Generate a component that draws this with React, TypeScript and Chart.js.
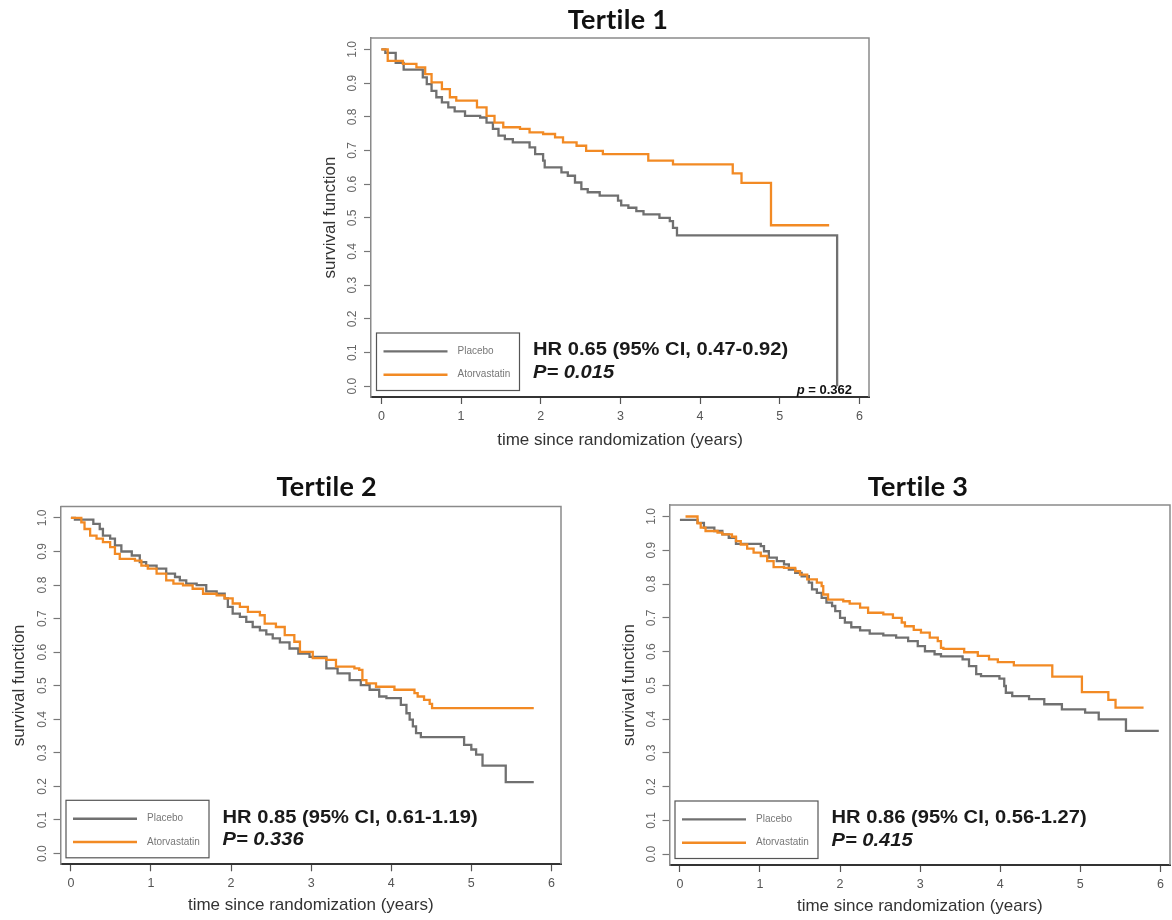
import React, { useEffect, useRef } from 'react';
import { Chart, registerables } from 'chart.js';

Chart.register(...registerables);
Chart.defaults.font.family = '"Liberation Sans", Arial, sans-serif';

// ---------- data ----------
const X_TICKS = [0, 1, 2, 3, 4, 5, 6];
const Y_TICKS = [0, 0.1, 0.2, 0.3, 0.4, 0.5, 0.6, 0.7, 0.8, 0.9, 1.0];
const SERIES_LABELS = ['Placebo', 'Atorvastatin'];
const SERIES_COLORS = ['#707070', '#F28A24'];

const PANEL_TITLES = ['Tertile 1', 'Tertile 2', 'Tertile 3'];
const HR_TEXTS = ['HR 0.65 (95% CI, 0.47-0.92)', 'HR 0.85 (95% CI, 0.61-1.19)', 'HR 0.86 (95% CI, 0.56-1.27)'];
const P_TEXTS = ['P= 0.015', 'P= 0.336', 'P= 0.415'];
const EXTRA_P_TEXT = [' = 0.362', '', ''];

const X_TITLE = 'time since randomization (years)';
const Y_TITLE = 'survival function';

// Tertile 1
const T1_PLACEBO_TIME = [0, 0.05, 0.18, 0.28, 0.52, 0.57, 0.63, 0.69, 0.76, 0.84, 0.92, 1.05, 1.24, 1.32, 1.40, 1.47, 1.55, 1.65, 1.86, 1.93, 2.03, 2.05, 2.26, 2.34, 2.43, 2.51, 2.59, 2.74, 2.97, 3.01, 3.10, 3.20, 3.29, 3.49, 3.62, 3.66, 3.71, 5.72];
const T1_PLACEBO_SURV = [1.0, 0.99, 0.96, 0.94, 0.917, 0.897, 0.877, 0.858, 0.843, 0.828, 0.816, 0.803, 0.798, 0.783, 0.764, 0.744, 0.734, 0.724, 0.709, 0.689, 0.670, 0.650, 0.635, 0.625, 0.605, 0.585, 0.576, 0.566, 0.551, 0.537, 0.530, 0.520, 0.510, 0.500, 0.490, 0.470, 0.448, 0.0];
const T1_ATORVA_TIME = [0, 0.08, 0.27, 0.44, 0.55, 0.63, 0.76, 0.86, 0.94, 1.20, 1.32, 1.42, 1.53, 1.74, 1.86, 2.03, 2.18, 2.28, 2.45, 2.57, 2.78, 3.35, 3.66, 4.41, 4.52, 4.89, 5.62];
const T1_ATORVA_SURV = [1.0, 0.966, 0.957, 0.947, 0.927, 0.902, 0.882, 0.858, 0.848, 0.828, 0.803, 0.783, 0.769, 0.764, 0.754, 0.749, 0.739, 0.724, 0.714, 0.699, 0.689, 0.670, 0.659, 0.632, 0.604, 0.478, 0.478];

// Tertile 2
const T2_PLACEBO_TIME = [0, 0.05, 0.28, 0.36, 0.40, 0.49, 0.55, 0.63, 0.76, 0.86, 0.94, 1.07, 1.19, 1.30, 1.36, 1.44, 1.57, 1.69, 1.82, 1.92, 1.96, 2.02, 2.11, 2.19, 2.27, 2.36, 2.44, 2.52, 2.61, 2.73, 2.84, 2.98, 3.19, 3.33, 3.48, 3.62, 3.73, 3.85, 3.94, 4.12, 4.19, 4.23, 4.27, 4.31, 4.37, 4.91, 5.00, 5.06, 5.14, 5.43, 5.78];
const T2_PLACEBO_SURV = [1.0, 0.995, 0.982, 0.967, 0.947, 0.938, 0.918, 0.900, 0.888, 0.868, 0.858, 0.849, 0.834, 0.824, 0.814, 0.804, 0.800, 0.781, 0.774, 0.760, 0.735, 0.715, 0.705, 0.690, 0.675, 0.665, 0.653, 0.641, 0.629, 0.611, 0.596, 0.586, 0.552, 0.537, 0.517, 0.502, 0.488, 0.468, 0.463, 0.443, 0.418, 0.399, 0.379, 0.359, 0.347, 0.324, 0.310, 0.295, 0.262, 0.213, 0.213];
const T2_ATORVA_TIME = [0, 0.13, 0.17, 0.24, 0.32, 0.40, 0.49, 0.55, 0.61, 0.80, 0.88, 0.96, 1.07, 1.19, 1.28, 1.40, 1.52, 1.65, 1.82, 1.92, 2.02, 2.11, 2.21, 2.36, 2.42, 2.56, 2.67, 2.79, 2.86, 3.02, 3.19, 3.31, 3.54, 3.60, 3.64, 3.69, 3.81, 4.04, 4.29, 4.33, 4.41, 4.48, 4.51, 5.78];
const T2_ATORVA_SURV = [1.0, 0.987, 0.967, 0.947, 0.938, 0.928, 0.913, 0.893, 0.878, 0.873, 0.858, 0.849, 0.834, 0.814, 0.804, 0.799, 0.789, 0.774, 0.769, 0.760, 0.745, 0.735, 0.720, 0.710, 0.685, 0.675, 0.651, 0.631, 0.601, 0.582, 0.577, 0.557, 0.552, 0.547, 0.517, 0.507, 0.497, 0.488, 0.478, 0.468, 0.458, 0.446, 0.433, 0.433];

// Tertile 3
const T3_PLACEBO_TIME = [0, 0.22, 0.30, 0.43, 0.53, 0.61, 0.70, 1.01, 1.05, 1.11, 1.21, 1.30, 1.36, 1.44, 1.52, 1.61, 1.65, 1.71, 1.77, 1.83, 1.90, 1.94, 2.00, 2.06, 2.14, 2.25, 2.37, 2.54, 2.70, 2.85, 2.97, 3.06, 3.18, 3.26, 3.53, 3.61, 3.70, 3.76, 3.99, 4.05, 4.07, 4.15, 4.36, 4.55, 4.77, 5.06, 5.23, 5.57, 5.98];
const T3_PLACEBO_SURV = [0.99, 0.981, 0.967, 0.957, 0.947, 0.937, 0.919, 0.912, 0.897, 0.878, 0.868, 0.858, 0.843, 0.833, 0.823, 0.804, 0.784, 0.774, 0.759, 0.745, 0.735, 0.720, 0.700, 0.686, 0.672, 0.663, 0.653, 0.648, 0.641, 0.631, 0.616, 0.601, 0.592, 0.586, 0.577, 0.557, 0.533, 0.527, 0.520, 0.498, 0.478, 0.468, 0.459, 0.444, 0.429, 0.419, 0.399, 0.365, 0.365];
const T3_ATORVA_TIME = [0.07, 0.22, 0.26, 0.32, 0.47, 0.53, 0.65, 0.70, 0.76, 0.84, 0.92, 1.01, 1.09, 1.17, 1.30, 1.44, 1.50, 1.59, 1.71, 1.77, 1.79, 1.85, 2.04, 2.12, 2.25, 2.35, 2.54, 2.66, 2.77, 2.81, 2.92, 3.01, 3.12, 3.22, 3.26, 3.29, 3.55, 3.72, 3.86, 3.97, 4.17, 4.65, 5.02, 5.35, 5.44, 5.79];
const T3_ATORVA_SURV = [1.0, 0.98, 0.967, 0.957, 0.952, 0.947, 0.940, 0.927, 0.917, 0.905, 0.893, 0.883, 0.868, 0.850, 0.848, 0.838, 0.828, 0.814, 0.804, 0.794, 0.769, 0.754, 0.749, 0.742, 0.730, 0.715, 0.710, 0.700, 0.686, 0.675, 0.664, 0.656, 0.641, 0.631, 0.611, 0.608, 0.598, 0.587, 0.577, 0.569, 0.559, 0.526, 0.480, 0.457, 0.434, 0.434];

// ---------- layout ----------
type PanelCfg = {
  idx: number;
  left: number; top: number; width: number; height: number;
  padTop: number; padRight: number; yAxisW: number; xAxisH: number;
  titleDx: number; titleY: number;
  yTitlePad: number; xTitlePad: number; xTickPad: number;
  placebo: [number[], number[]];
  atorva: [number[], number[]];
};

const PANELS: PanelCfg[] = [
  { idx: 0, left: 310, top: 0, width: 570, height: 455, padTop: 38, padRight: 11, yAxisW: 61, xAxisH: 58,
    titleDx: -2, titleY: 20, yTitlePad: 9.8, xTitlePad: 4.8, xTickPad: 5.5,
    placebo: [T1_PLACEBO_TIME, T1_PLACEBO_SURV], atorva: [T1_ATORVA_TIME, T1_ATORVA_SURV] },
  { idx: 1, left: 0, top: 460, width: 580, height: 460, padTop: 46.5, padRight: 19, yAxisW: 60.5, xAxisH: 55.7,
    titleDx: 16, titleY: 27, yTitlePad: 9.4, xTitlePad: 4.8, xTickPad: 4.5,
    placebo: [T2_PLACEBO_TIME, T2_PLACEBO_SURV], atorva: [T2_ATORVA_TIME, T2_ATORVA_SURV] },
  { idx: 2, left: 590, top: 460, width: 582, height: 460, padTop: 45, padRight: 2, yAxisW: 79.5, xAxisH: 55,
    titleDx: -1.7, titleY: 27, yTitlePad: 28.8, xTitlePad: 3.2, xTickPad: 4.8,
    placebo: [T3_PLACEBO_TIME, T3_PLACEBO_SURV], atorva: [T3_ATORVA_TIME, T3_ATORVA_SURV] },
];

const toPoints = (time: number[], surv: number[]) => time.map((t, i) => ({ x: t, y: surv[i] }));

function KMPanel({ cfg }: { cfg: PanelCfg }) {
  const ref = useRef<HTMLCanvasElement>(null);

  useEffect(() => {
    const canvas = ref.current;
    if (!canvas) return;
    const i = cfg.idx;

    const decor = {
      id: 'decor',
      afterDraw(chart: any) {
        const { ctx, chartArea: a } = chart;
        ctx.save();
        // box (top + right)
        ctx.strokeStyle = '#8a8a8a';
        ctx.lineWidth = 1.5;
        ctx.beginPath();
        ctx.moveTo(a.left, a.top);
        ctx.lineTo(a.right, a.top);
        ctx.lineTo(a.right, a.bottom);
        ctx.stroke();

        // title
        ctx.save();
        ctx.fillStyle = '#111';
        ctx.font = 'bold 27px Lato, "Liberation Sans", sans-serif';
        try { (ctx as any).letterSpacing = '0.3px'; } catch (e) { /* ignore */ }
        ctx.textAlign = 'center';
        ctx.textBaseline = 'middle';
        ctx.fillText(PANEL_TITLES[i], (a.left + a.right) / 2 + cfg.titleDx, cfg.titleY);
        ctx.restore();

        // legend box
        const lw = 143, lh = 57.5;
        const lx = a.left + 5.5, ly = a.bottom - 6.5 - lh;
        ctx.fillStyle = '#fff';
        ctx.fillRect(lx, ly, lw, lh);
        ctx.strokeStyle = '#555';
        ctx.lineWidth = 1.2;
        ctx.strokeRect(lx, ly, lw, lh);
        chart.data.datasets.forEach((ds: any, k: number) => {
          const yy = ly + 18.4 + k * 23.3;
          ctx.strokeStyle = ds.borderColor;
          ctx.lineWidth = 2.4;
          ctx.beginPath();
          ctx.moveTo(lx + 7, yy);
          ctx.lineTo(lx + 71, yy);
          ctx.stroke();
          ctx.fillStyle = '#777';
          ctx.font = '10px "Liberation Sans", sans-serif';
          ctx.textAlign = 'left';
          ctx.textBaseline = 'middle';
          ctx.fillText(ds.label, lx + 81, yy);
        });

        // HR annotation
        ctx.fillStyle = '#1a1a1a';
        ctx.textAlign = 'left';
        ctx.textBaseline = 'middle';
        const hx = a.left + 162;
        ctx.save();
        ctx.translate(hx, a.bottom - 47);
        ctx.scale(1.06, 1);
        ctx.font = 'bold 19px "Liberation Sans", sans-serif';
        ctx.fillText(HR_TEXTS[i], 0, 0);
        ctx.restore();
        ctx.save();
        ctx.translate(hx, a.bottom - 24.5);
        ctx.scale(1.06, 1);
        ctx.font = 'italic bold 19px "Liberation Sans", sans-serif';
        ctx.fillText(P_TEXTS[i], 0, 0);
        ctx.restore();

        // extra small p-value
        if (EXTRA_P_TEXT[i]) {
          ctx.font = 'bold 13px "Liberation Sans", sans-serif';
          ctx.textAlign = 'right';
          const rx = a.right - 17;
          const ry = a.bottom - 6.5;
          ctx.fillStyle = '#111';
          ctx.fillText(EXTRA_P_TEXT[i], rx, ry);
          const w = ctx.measureText(EXTRA_P_TEXT[i]).width;
          ctx.font = 'italic bold 13px "Liberation Sans", sans-serif';
          ctx.fillText('p', rx - w, ry);
        }
        ctx.restore();
      },
    };

    const chart = new Chart(canvas, {
      type: 'line',
      data: {
        datasets: [
          {
            label: SERIES_LABELS[0],
            data: toPoints(cfg.placebo[0], cfg.placebo[1]),
            borderColor: SERIES_COLORS[0],
            borderWidth: 2.3,
            pointRadius: 0,
            stepped: 'before',
            fill: false,
            order: 1,
          },
          {
            label: SERIES_LABELS[1],
            data: toPoints(cfg.atorva[0], cfg.atorva[1]),
            borderColor: SERIES_COLORS[1],
            borderWidth: 2.3,
            pointRadius: 0,
            stepped: 'before',
            fill: false,
            order: 0,
          },
        ],
      },
      options: {
        animation: false,
        responsive: false,
        maintainAspectRatio: false,
        events: [],
        layout: { padding: { top: cfg.padTop, right: cfg.padRight, left: 0, bottom: 0 }, autoPadding: false },
        plugins: {
          legend: { display: false },
          title: { display: false },
          tooltip: { enabled: false },
        },
        scales: {
          x: {
            type: 'linear',
            min: -0.13,
            max: 6.12,
            afterBuildTicks: (s: any) => { s.ticks = X_TICKS.map((v) => ({ value: v })); },
            afterFit: (s: any) => { s.height = cfg.xAxisH; },
            grid: { display: true, drawOnChartArea: false, drawTicks: true, tickLength: 7, tickColor: '#555', tickWidth: 1.2 },
            border: { display: true, color: '#333', width: 2 },
            ticks: {
              autoSkip: false, maxRotation: 0, minRotation: 0, padding: cfg.xTickPad,
              color: '#555', font: { size: 12.5 },
              callback: (v: any) => String(v),
            },
            title: {
              display: true, text: X_TITLE, color: '#333',
              font: { size: 17 }, padding: { top: 0, bottom: cfg.xTitlePad },
            },
          },
          y: {
            type: 'linear',
            min: -0.032,
            max: 1.034,
            afterBuildTicks: (s: any) => { s.ticks = Y_TICKS.map((v) => ({ value: v })); },
            afterFit: (s: any) => { s.width = cfg.yAxisW; },
            grid: { display: true, drawOnChartArea: false, drawTicks: true, tickLength: 7, tickColor: '#777', tickWidth: 1.2 },
            border: { display: true, color: '#8a8a8a', width: 1.5 },
            ticks: {
              autoSkip: false, minRotation: 90, maxRotation: 90, crossAlign: 'center', padding: 2.5,
              color: '#666', font: { size: 12 },
              callback: (v: any) => Number(v).toFixed(1),
            },
            title: {
              display: true, text: Y_TITLE, color: '#333',
              font: { size: 17 }, padding: { top: cfg.yTitlePad, bottom: 0 },
            },
          },
        },
      } as any,
      plugins: [decor],
    });

    return () => chart.destroy();
  }, [cfg]);

  return (
    <canvas
      ref={ref}
      width={cfg.width}
      height={cfg.height}
      style={{ position: 'absolute', left: cfg.left, top: cfg.top, width: cfg.width, height: cfg.height }}
    />
  );
}

export default function App() {
  return (
    <div style={{ position: 'absolute', left: 0, top: 0, width: 1172, height: 920, background: '#fff', overflow: 'hidden' }}>
      {PANELS.map((p) => (
        <KMPanel key={p.idx} cfg={p} />
      ))}
    </div>
  );
}
